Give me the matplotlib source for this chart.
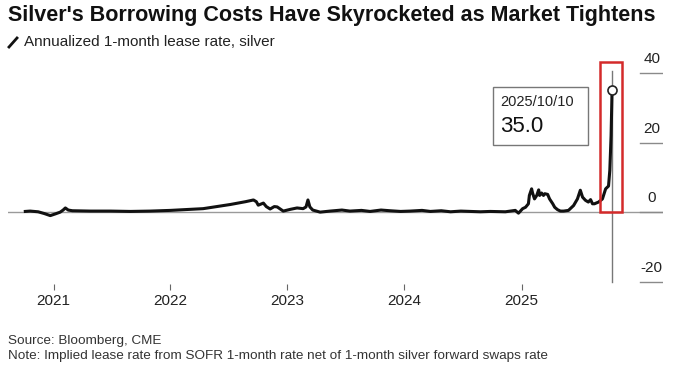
import matplotlib
matplotlib.use("Agg")
import matplotlib.pyplot as plt
import matplotlib.dates as mdates
from matplotlib.patches import Rectangle
from matplotlib.lines import Line2D
import pandas as pd

# annualized 1-month silver lease rate (%)
dates = [
    "2020-10-05", "2020-10-20", "2020-11-14", "2020-12-03", "2020-12-22",
    "2021-01-07", "2021-01-22", "2021-01-31", "2021-02-07", "2021-02-16",
    "2021-03-01", "2021-04-26", "2021-06-28", "2021-08-29", "2021-10-30",
    "2022-01-01", "2022-04-13", "2022-07-07", "2022-08-23", "2022-09-17",
    "2022-09-26", "2022-10-02", "2022-10-18", "2022-10-27", "2022-11-08",
    "2022-11-21", "2022-11-30", "2022-12-19", "2023-01-10", "2023-01-31",
    "2023-02-19", "2023-02-28", "2023-03-06", "2023-03-12", "2023-03-21",
    "2023-04-13", "2023-05-14", "2023-06-20", "2023-07-15", "2023-08-20",
    "2023-09-16", "2023-10-20", "2023-11-17", "2023-12-20", "2024-01-19",
    "2024-02-25", "2024-03-22", "2024-04-25", "2024-05-24", "2024-06-25",
    "2024-07-25", "2024-08-25", "2024-09-25", "2024-11-11",
    "2024-12-12", "2024-12-22", "2025-01-04", "2025-01-13", "2025-01-22",
    "2025-01-25", "2025-02-01", "2025-02-04", "2025-02-10", "2025-02-17",
    "2025-02-23", "2025-02-26", "2025-03-04", "2025-03-10", "2025-03-14",
    "2025-03-23", "2025-03-29", "2025-04-08", "2025-04-14", "2025-04-23",
    "2025-05-02", "2025-05-12", "2025-05-27", "2025-06-12", "2025-06-24",
    "2025-07-03", "2025-07-10", "2025-07-19", "2025-07-28", "2025-08-04",
    "2025-08-10", "2025-08-16", "2025-08-29", "2025-09-10", "2025-09-20",
    "2025-09-29", "2025-10-03", "2025-10-07", "2025-10-10",
]
lease_rate = [
    0.2, 0.3, 0.1, -0.4, -1.0,
    -0.5, 0.0, 0.6, 1.2, 0.6,
    0.4, 0.3, 0.3, 0.2, 0.3,
    0.5, 1.0, 2.2, 3.0, 3.5,
    3.0, 2.0, 2.6, 1.6, 0.9,
    1.6, 1.5, 0.3, 0.8, 1.2,
    1.0, 1.5, 3.5, 1.5, 0.6,
    0.0, 0.3, 0.6, 0.3, 0.5,
    0.2, 0.6, 0.4, 0.2, 0.3,
    0.5, 0.2, 0.4, 0.1, 0.3,
    0.2, 0.1, 0.2, 0.1,
    0.5, -0.3, 1.0, 1.4, 2.4,
    4.8, 6.7, 5.5, 3.8, 4.8,
    6.4, 4.8, 5.5, 4.8, 5.3,
    5.1, 3.8, 2.4, 1.4, 0.7,
    0.3, 0.3, 0.5, 1.9, 3.8,
    6.3, 4.3, 3.4, 2.9, 3.6,
    2.4, 2.4, 2.9, 3.8, 6.7,
    7.5, 12.0, 22.0, 35.0,
]
year_ticks = ["2021", "2022", "2023", "2024", "2025"]
y_ticks = [-20, 0, 20, 40]
last_date = "2025-10-10"
last_value = 35.0

W, H = 680, 367
fig = plt.figure(figsize=(6.8, 3.67), dpi=100)
font = "Liberation Sans"

ax = fig.add_axes([8 / W, 1 - 290 / H, 655 / W, 235 / H])
x = pd.to_datetime(dates)
ax.plot(x, lease_rate, color="#111111", lw=2.2, solid_joinstyle="round", zorder=3)

ax.set_xlim(pd.Timestamp("2020-08-12"), pd.Timestamp("2026-03-18"))
ax.set_ylim(-22.4, 45.2)

# zero line across, short dashes under the right-hand labels
ax.axhline(0, color="#9a9a9a", lw=1, zorder=1)
for v in y_ticks:
    ax.axhline(v, xmin=0.965, xmax=1.0, color="#8a8a8a", lw=1)
    ax.text(0.983, v + 2.0, str(v), transform=ax.get_yaxis_transform(),
            ha="center", va="bottom", fontsize=11, family=font, color="#222222")

ax.set_xticks(pd.to_datetime([y + "-01-01" for y in year_ticks]))
ax.xaxis.set_major_formatter(mdates.DateFormatter("%Y"))
ax.tick_params(axis="x", direction="in", length=4, width=0.8, color="#666666",
               pad=3, labelsize=11, labelcolor="#222222")
for lab in ax.get_xticklabels():
    lab.set_family(font)
ax.set_yticks([])
for s in ax.spines.values():
    s.set_visible(False)

# cursor line and marker at last point
ld = pd.Timestamp(last_date)
ax.plot([ld, ld], [40.5, -20.2], color="#777777", lw=1, zorder=2)
ax.plot([ld], [last_value], marker="o", ms=6.5, mfc="white", mec="#222222",
        mew=1.2, zorder=5)

# red highlight box
x0 = mdates.date2num(pd.Timestamp("2025-09-01"))
x1 = mdates.date2num(pd.Timestamp("2025-11-11"))
ax.add_patch(Rectangle((x0, 0), x1 - x0, 43.2, fill=False, ec="#d42a2a",
                       lw=1.8, zorder=4))

# tooltip box
fig.add_artist(Rectangle((493 / W, 1 - 145 / H), 95 / W, 58 / H,
                         transform=fig.transFigure, fc="white", ec="#777777",
                         lw=1))
fig.text(500 / W, 1 - 102 / H, "2025/10/10", fontsize=10.5, family=font,
         color="#222222", va="center")
fig.text(500 / W, 1 - 127 / H, f"{last_value:.1f}", fontsize=16, family=font,
         color="#111111", va="center")

# titles
fig.text(8 / W, 1 - 15 / H, "Silver's Borrowing Costs Have Skyrocketed as Market Tightens",
         fontsize=15.5, fontweight="bold", family=font, color="#111111", va="center")
fig.add_artist(Line2D([9 / W, 17 / W], [1 - 47 / H, 1 - 38 / H],
                      transform=fig.transFigure, color="#111111", lw=2))
fig.text(24 / W, 1 - 42 / H, "Annualized 1-month lease rate, silver",
         fontsize=11, family=font, color="#222222", va="center")

fig.text(8 / W, 1 - 341 / H, "Source: Bloomberg, CME", fontsize=9.7,
         family=font, color="#333333", va="center")
fig.text(8 / W, 1 - 356 / H,
         "Note: Implied lease rate from SOFR 1-month rate net of 1-month silver forward swaps rate",
         fontsize=9.7, family=font, color="#333333", va="center")

fig.savefig("out.png", dpi=100)
